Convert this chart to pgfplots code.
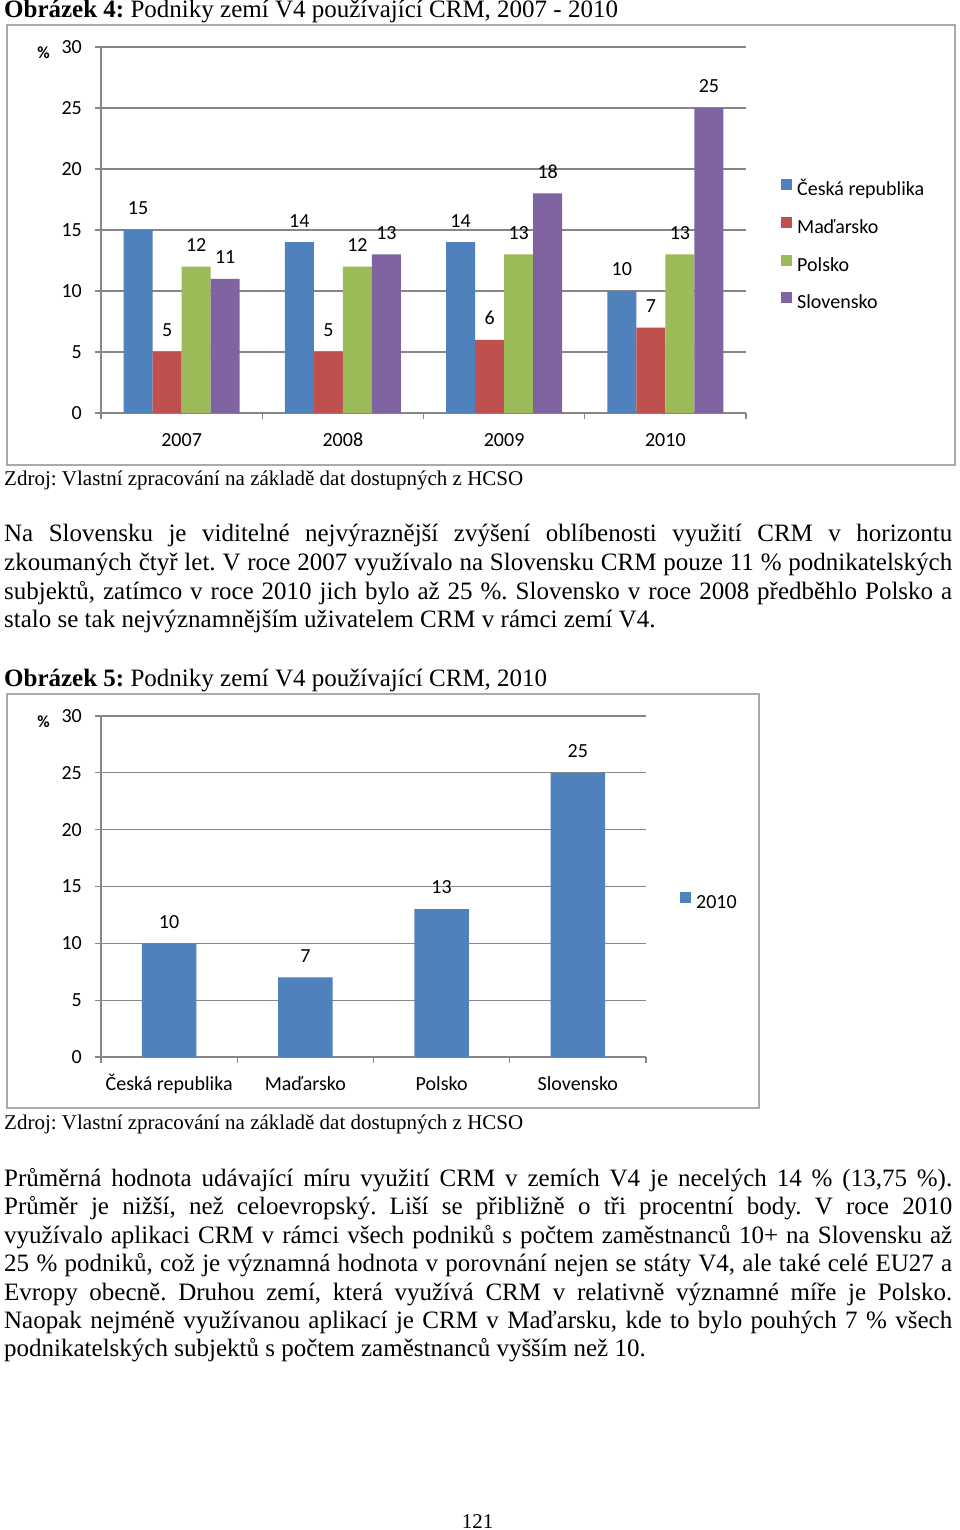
\documentclass[border=0pt]{standalone}
\usepackage{fontspec}
\setmainfont{Liberation Serif}
\newfontfamily\calibri{Carlito}
\usepackage{pgfplots}
\usepackage{pgfplotstable}
\pgfplotsset{compat=1.18}
\definecolor{cblue}{RGB}{79,129,189}
\definecolor{cred}{RGB}{192,80,77}
\definecolor{cgreen}{RGB}{155,187,89}
\definecolor{cpurple}{RGB}{128,100,162}
\definecolor{gridc}{RGB}{134,134,134}
\definecolor{framec}{RGB}{170,170,170}
\newcommand\cf{\calibri\fontsize{20}{24}\selectfont}
\newcommand\pf{\calibri\bfseries\fontsize{17}{20}\selectfont}
\newcommand\bodyf{\fontsize{25}{29}\selectfont}
\newcommand\srcf{\fontsize{21}{25}\selectfont}
\frenchspacing

\pgfplotstableread{
x cz hu pl sk
0 15 5 12 11
1 14 5 12 13
2 14 6 13 18
3 10 7 13 25
}\years

\pgfplotstableread{
x val
0 10
1 7
2 13
3 25
}\cty

\pgfplotsset{excelbar/.style={
  scale only axis, anchor=south west,
  ymin=0, ymax=30, xmin=-0.5, xmax=3.5,
  ytick={0,5,...,30},
  axis x line*=bottom, axis y line*=left,
  axis line style={gridc, line width=1.3pt, -},
  ymajorgrids, grid style={gridc, line width=1.3pt},
  tick style={gridc, line width=1.3pt},
  tick align=outside, major tick length=6pt,
  xtick={0,1,2,3}, major x tick style={draw=none},
  extra x ticks={-0.5,0.5,1.5,2.5,3.5}, extra x tick labels={},
  extra x tick style={major x tick style={draw=gridc}},
  /pgf/number format/assume math mode=true,
  yticklabel style={font=\cf, text=black, anchor=east, inner sep=0pt, xshift=-13pt},
  xticklabel style={font=\cf, text=black, anchor=base, inner sep=0pt, yshift=-27.5pt},
  ylabel={\%},
  every axis y label/.style={at={(rel axis cs:0,1)}, anchor=center, xshift=-57.5pt, yshift=-6pt, font=\pf},
  nodes near coords,
  nodes near coords style={font=\cf, text=black, inner sep=0pt, anchor=south, yshift=15pt},
  legend cell align=left,
}}

\newcommand\bline[3]{\node[anchor=base west, inner sep=0pt, font=\bodyf] at (4pt,-#1pt) {\makebox[948pt][s]{#2}#3};}
\newcommand\lline[2]{\node[anchor=base west, inner sep=0pt, font=\bodyf] at (4pt,-#1pt) {#2};}

\begin{document}
\begin{tikzpicture}
\useasboundingbox (0,0) rectangle (960pt,-1530pt);
\fill[white] (0,0) rectangle (960pt,-1530pt);

% ---------- Figure 4 ----------
\node[anchor=base west, inner sep=0pt, font=\bodyf] at (4pt,-18pt) {\textbf{Obrázek 4:} Podniky zemí V4 používající CRM, 2007 - 2010};
\draw[framec, line width=2.5pt] (7pt,-25pt) rectangle (955pt,-465pt);

\begin{axis}[excelbar, at={(101pt,-413pt)}, width=645pt, height=366pt,
  ybar=0pt, bar width=0.18,
  xticklabels={2007,2008,2009,2010},
  legend image code/.code={\fill[#1, draw=none] (0pt,1pt) rectangle (11pt,12pt);},
  legend style={at={(1.0543,0.6407)}, anchor=north west, draw=none, fill=none,
    inner sep=0pt, row sep=16.4pt, column sep=5pt, font=\cf,
    nodes={inner sep=0pt, text height=14pt, text depth=5pt}},
]
\addplot[fill=cblue, draw=none] table[x=x,y=cz]{\years};
\addplot[fill=cred, draw=none] table[x=x,y=hu]{\years};
\addplot[fill=cgreen, draw=none] table[x=x,y=pl]{\years};
\addplot[fill=cpurple, draw=none] table[x=x,y=sk]{\years};
\legend{Česká republika, Maďarsko, Polsko, Slovensko}
\end{axis}

\node[anchor=base west, inner sep=0pt, font=\srcf] at (4pt,-485pt) {Zdroj: Vlastní zpracování na základě dat dostupných z HCSO};

\bline{541.7}{Na Slovensku je viditelné nejvýraznější zvýšení oblíbenosti využití CRM v~horizontu}{}
\bline{570.3}{zkoumaných čtyř let. V roce 2007 využívalo na Slovensku CRM pouze 11 \% podnikatelských}{}
\bline{599}{subjektů, zatímco v roce 2010 jich bylo až 25 \%. Slovensko v roce 2008 předběhlo Polsko a}{}
\lline{627.7}{stalo se tak nejvýznamnějším uživatelem CRM v rámci zemí V4.}

% ---------- Figure 5 ----------
\node[anchor=base west, inner sep=0pt, font=\bodyf] at (4pt,-686pt) {\textbf{Obrázek 5:} Podniky zemí V4 používající CRM, 2010};
\draw[framec, line width=2.5pt] (7pt,-694pt) rectangle (759pt,-1108pt);

\begin{axis}[excelbar, at={(101pt,-1057pt)}, width=545pt, height=341pt,
  ybar, bar width=0.4,
  xticklabels={Česká republika, Maďarsko, Polsko, Slovensko},
  legend image code/.code={\fill[#1, draw=none] (0pt,1pt) rectangle (11pt,12pt);},
  legend style={at={(1.0624,0.4854)}, anchor=north west, draw=none, fill=none,
    inner sep=0pt, column sep=5pt, font=\cf,
    nodes={inner sep=0pt, text height=14pt, text depth=5pt}},
]
\addplot[fill=cblue, draw=none] table[x=x,y=val]{\cty};
\legend{2010}
\end{axis}

\node[anchor=base west, inner sep=0pt, font=\srcf] at (4pt,-1129pt) {Zdroj: Vlastní zpracování na základě dat dostupných z HCSO};

\bline{1186.5}{Průměrná hodnota udávající míru využití CRM v~zemích V4 je necelých 14 \% (13,75 \%).}{}
\bline{1214.9}{Průměr je nižší, než celoevropský. Liší se přibližně o tři procentní body. V roce 2010}{}
\bline{1243.3}{využívalo aplikaci CRM v~rámci všech podniků s počtem zaměstnanců 10+ na Slovensku až}{}
\bline{1271.7}{25 \% podniků, což je významná hodnota v porovnání nejen se státy V4, ale také celé EU27 a}{}
\bline{1300.1}{Evropy obecně. Druhou zemí, která využívá CRM v relativně významné míře je Polsko.}{}
\bline{1328.5}{Naopak nejméně využívanou aplikací je CRM v Maďarsku, kde to bylo pouhých 7 \% všech}{}
\lline{1356.9}{podnikatelských subjektů s počtem zaměstnanců vyšším než 10.}

\node[anchor=base, inner sep=0pt, font=\srcf] at (477.5pt,-1528pt) {121};
\end{tikzpicture}
\end{document}
